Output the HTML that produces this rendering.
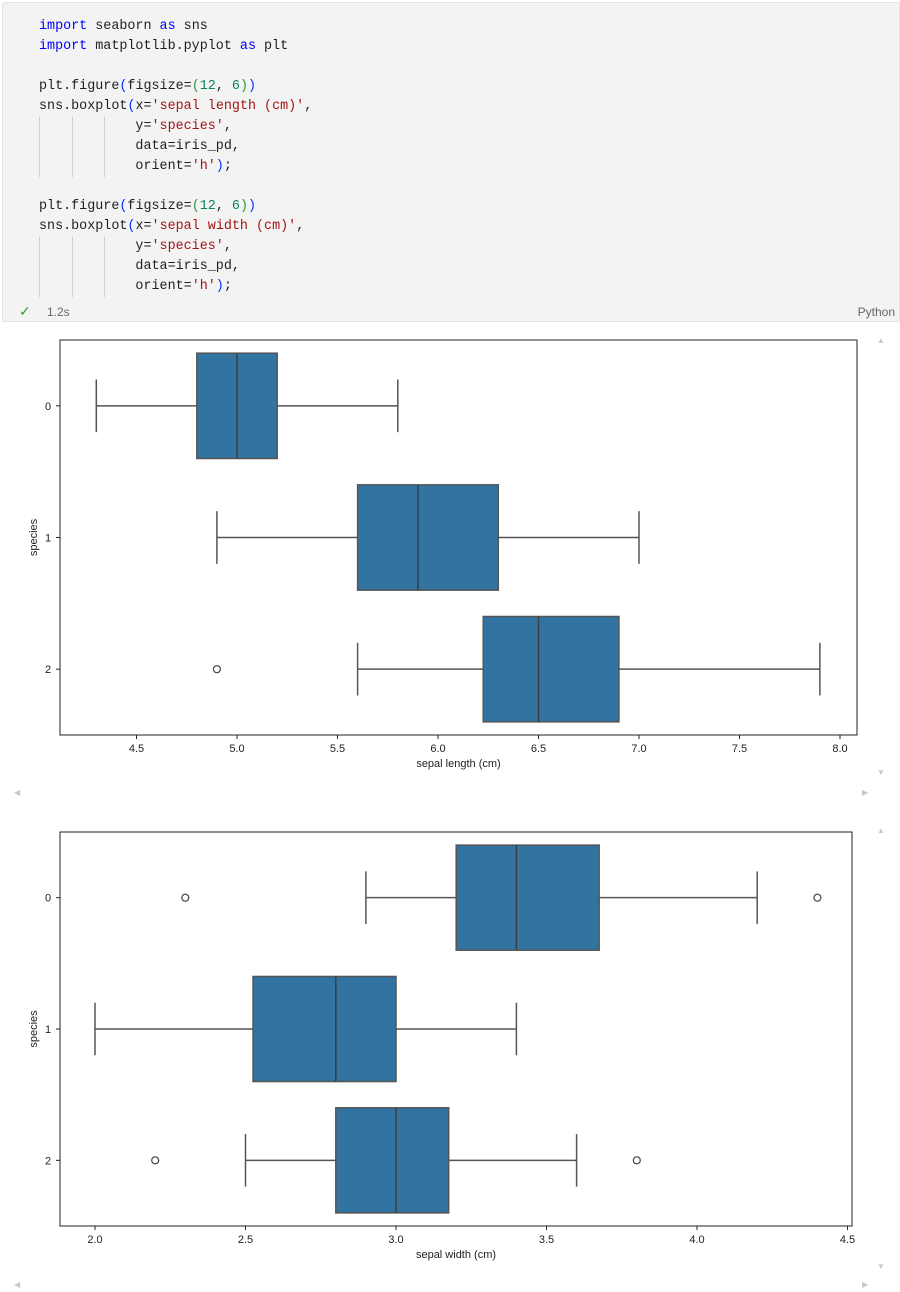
<!DOCTYPE html>
<html><head><meta charset="utf-8"><style>
body{margin:0;width:900px;height:1292px;background:#fff;position:relative;overflow:hidden;font-family:"Liberation Sans",sans-serif}
#cell{position:absolute;left:2px;top:2px;width:896px;height:318px;background:#f3f3f3;border:1px solid #e5e5e5}
.code{position:absolute;left:36px;font-family:"Liberation Mono",monospace;font-size:13.4px;line-height:20px;white-space:pre;color:#1f1f1f}
.kw{color:#0000ff}.st{color:#a31515}.nm{color:#098658}.p1{color:#0431fa}.p2{color:#319331}
.guide{position:absolute;width:1px;background:#d0d0d0}
svg{position:absolute;left:0}
.arr{position:absolute;color:#c8c8c8;font-size:8px}
</style></head><body>
<div id="cell">
<div class="code" style="top:14px"><span class="kw">import</span> seaborn <span class="kw">as</span> sns
<span class="kw">import</span> matplotlib.pyplot <span class="kw">as</span> plt

plt.figure<span class="p1">(</span>figsize=<span class="p2">(</span><span class="nm">12</span>, <span class="nm">6</span><span class="p2">)</span><span class="p1">)</span>
sns.boxplot<span class="p1">(</span>x=<span class="st">'sepal length (cm)'</span>,
            y=<span class="st">'species'</span>,
            data=iris_pd,
            orient=<span class="st">'h'</span><span class="p1">)</span>;

plt.figure<span class="p1">(</span>figsize=<span class="p2">(</span><span class="nm">12</span>, <span class="nm">6</span><span class="p2">)</span><span class="p1">)</span>
sns.boxplot<span class="p1">(</span>x=<span class="st">'sepal width (cm)'</span>,
            y=<span class="st">'species'</span>,
            data=iris_pd,
            orient=<span class="st">'h'</span><span class="p1">)</span>;</div>
<div class="guide" style="left:36px;top:114px;height:60px"></div><div class="guide" style="left:69px;top:114px;height:60px"></div><div class="guide" style="left:101px;top:114px;height:60px"></div>
<div class="guide" style="left:36px;top:234px;height:60px"></div><div class="guide" style="left:69px;top:234px;height:60px"></div><div class="guide" style="left:101px;top:234px;height:60px"></div>
<div style="position:absolute;left:16px;top:300px;color:#3c9a3c;font-size:14px">✓</div>
<div style="position:absolute;left:44px;top:302px;color:#666;font-size:12px">1.2s</div>
<div style="position:absolute;right:4px;top:302px;color:#666;font-size:12px">Python</div>
</div>
<div class="arr" style="left:877px;top:336px">▲</div>
<div class="arr" style="left:877px;top:768px">▼</div>
<div class="arr" style="left:14px;top:788px">◀</div>
<div class="arr" style="left:862px;top:788px">▶</div>
<div class="arr" style="left:877px;top:826px">▲</div>
<div class="arr" style="left:877px;top:1262px">▼</div>
<div class="arr" style="left:14px;top:1280px">◀</div>
<div class="arr" style="left:862px;top:1280px">▶</div>
<svg id="c1" width="900" height="810" style="top:0"></svg>
<svg id="c2" width="900" height="1292" style="top:0"></svg>
<script>
const species=['0','1','2'];
const lenLow=[4.3,4.9,5.6];
const lenQ1=[4.8,5.6,6.225];
const lenMed=[5.0,5.9,6.5];
const lenQ3=[5.2,6.3,6.9];
const lenHigh=[5.8,7.0,7.9];
const lenOut=[[],[],[4.9]];
const lenTicks=[4.5,5.0,5.5,6.0,6.5,7.0,7.5,8.0];
const widLow=[2.9,2.0,2.5];
const widQ1=[3.2,2.525,2.8];
const widMed=[3.4,2.8,3.0];
const widQ3=[3.675,3.0,3.175];
const widHigh=[4.2,3.4,3.6];
const widOut=[[2.3,4.4],[],[2.2,3.8]];
const widTicks=[2.0,2.5,3.0,3.5,4.0,4.5];
const NS='http://www.w3.org/2000/svg';
function mk(svg,tag,attrs,name,text){const e=document.createElementNS(NS,tag);for(const k in attrs)e.setAttribute(k,attrs[k]);


if(text!==undefined)e.textContent=text;svg.appendChild(e);return e;}
function draw(svg,cfg){
 const {L,T,R,B,x0,px0,ppu,label,low,q1,med,q3,high,out,ticks}=cfg;
 const X=v=>px0+(v-x0)*ppu;
 const step=(B-T)/3;const Y=i=>T+step*(i+0.5);const hh=step*0.4;
 mk(svg,'rect',{x:L,y:T,width:R-L,height:B-T,fill:'none',stroke:'#222','stroke-width':1},'plot-frame');
 ticks.forEach(t=>{mk(svg,'line',{x1:X(t),x2:X(t),y1:B,y2:B+4,stroke:'#222'},'x-tick');
  mk(svg,'text',{x:X(t),y:B+17,'font-size':11,'text-anchor':'middle',fill:'#222'},'x-tick-label',t.toFixed(1));});
 species.forEach((s,i)=>{const y=Y(i);
  mk(svg,'line',{x1:L-4,x2:L,y1:y,y2:y,stroke:'#222'},'y-tick');
  mk(svg,'text',{x:L-12,y:y+4,'font-size':11,'text-anchor':'middle',fill:'#222'},'y-tick-label',s);
  const g='#555';
  mk(svg,'line',{x1:X(low[i]),x2:X(q1[i]),y1:y,y2:y,stroke:g,'stroke-width':1.5},'whisker-low');
  mk(svg,'line',{x1:X(q3[i]),x2:X(high[i]),y1:y,y2:y,stroke:g,'stroke-width':1.5},'whisker-high');
  mk(svg,'line',{x1:X(low[i]),x2:X(low[i]),y1:y-hh/2,y2:y+hh/2,stroke:g,'stroke-width':1.5},'cap-low');
  mk(svg,'line',{x1:X(high[i]),x2:X(high[i]),y1:y-hh/2,y2:y+hh/2,stroke:g,'stroke-width':1.5},'cap-high');
  mk(svg,'rect',{x:X(q1[i]),y:y-hh,width:X(q3[i])-X(q1[i]),height:2*hh,fill:'#3274a1',stroke:g,'stroke-width':1.5},'box-species-'+s);
  mk(svg,'line',{x1:X(med[i]),x2:X(med[i]),y1:y-hh,y2:y+hh,stroke:'#3d3d3d','stroke-width':1.5},'median-line');
  out[i].forEach(o=>mk(svg,'circle',{cx:X(o),cy:y,r:3.5,fill:'none',stroke:'#444','stroke-width':1.2},'outlier'));
 });
 mk(svg,'text',{x:(L+R)/2,y:B+32,'font-size':11,'text-anchor':'middle',fill:'#222'},'x-axis-title',label);
 mk(svg,'text',{x:0,y:0,'font-size':11,'text-anchor':'middle',fill:'#222',transform:`translate(37,${(T+B)/2}) rotate(-90)`},'y-axis-title','species');
}
draw(document.getElementById('c1'),{L:60,T:340,R:857,B:735,x0:5.0,px0:237,ppu:201,label:'sepal length (cm)',low:lenLow,q1:lenQ1,med:lenMed,q3:lenQ3,high:lenHigh,out:lenOut,ticks:lenTicks});
draw(document.getElementById('c2'),{L:60,T:832,R:852,B:1226,x0:2.0,px0:95,ppu:301,label:'sepal width (cm)',low:widLow,q1:widQ1,med:widMed,q3:widQ3,high:widHigh,out:widOut,ticks:widTicks});
</script>
</body></html>
